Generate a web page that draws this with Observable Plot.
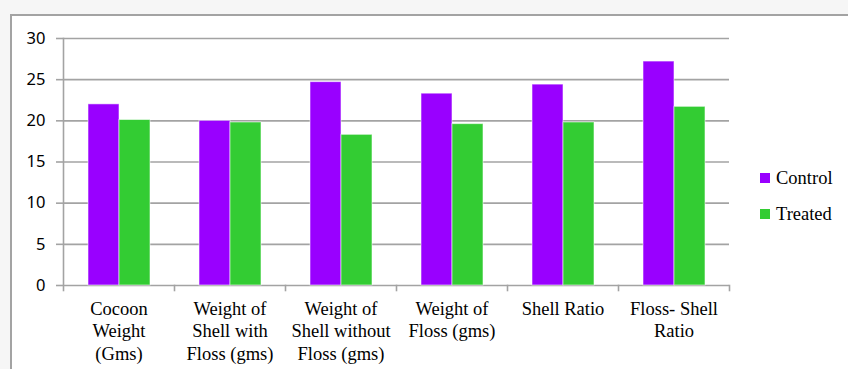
<!DOCTYPE html>
<html>
<head>
<meta charset="utf-8">
<script src="https://cdn.jsdelivr.net/npm/d3@7"></script>
<script src="https://cdn.jsdelivr.net/npm/@observablehq/plot@0.6"></script>
<style>
  html, body { margin: 0; padding: 0; }
  body { width: 848px; height: 369px; background: #f6f6f6; position: relative; overflow: hidden; }
  #panel { position: absolute; left: 10px; top: 14px; right: 0; bottom: 0; background: #fff;
           border-left: 2px solid #a3a3a3; border-top: 2px solid #a3a3a3; }
  #chart { position: absolute; left: 0; top: 0; }
  #legend { position: absolute; left: 760px; top: 165px; font-family: "Liberation Serif", "Times New Roman", serif; font-size: 18.5px; color: #000; }
  .item { display: flex; align-items: center; height: 26px; margin-bottom: 10px; }
  .swatch { width: 10px; height: 10px; margin-right: 6px; }
</style>
</head>
<body>
<div id="panel"></div>
<div id="chart"></div>
<div id="legend"></div>
<script>
// Cocoon and shell measurements, control vs treated
const categories = [
  "Cocoon Weight (Gms)",
  "Weight of Shell with Floss (gms)",
  "Weight of Shell without Floss (gms)",
  "Weight of Floss (gms)",
  "Shell Ratio",
  "Floss- Shell Ratio"
];
const tickLabels = [
  "Cocoon\nWeight\n(Gms)",
  "Weight of\nShell with\nFloss (gms)",
  "Weight of\nShell without\nFloss (gms)",
  "Weight of\nFloss (gms)",
  "Shell Ratio",
  "Floss- Shell\nRatio"
];
const series = ["Control", "Treated"];
const control = [22.0, 20.0, 24.7, 23.3, 24.4, 27.2];
const treated = [20.1, 19.8, 18.3, 19.6, 19.8, 21.7];
const yTicks = [0, 5, 10, 15, 20, 25, 30];
const colors = ["#9900ff", "#33cc33"];

// long-format table for the grouped bars
const rows = categories.flatMap((c, i) => [
  {category: c, series: series[0], value: control[i]},
  {category: c, series: series[1], value: treated[i]}
]);
const labelOf = new Map(categories.map((c, i) => [c, tickLabels[i]]));

const W = 848, H = 369, mT = 38, mB = 84, mL = 63, mR = 119;
const innerH = H - mT - mB;
const gridColor = "#a3a3a3";

const chart = Plot.plot({
  width: W,
  height: H,
  marginTop: mT,
  marginBottom: mB,
  marginLeft: mL,
  marginRight: mR,
  style: {background: "transparent", overflow: "visible"},
  fx: {domain: categories, padding: 0},
  x: {domain: series, paddingInner: 0, paddingOuter: 0.75, axis: null},
  y: {domain: [0, 30]},
  color: {domain: series, range: colors},
  marks: [
    Plot.gridY(yTicks, {stroke: gridColor, strokeOpacity: 1, strokeWidth: 1.6}),
    Plot.barY(rows, {fx: "category", x: "series", y: "value", fill: "series",
                     stroke: "#ffffff", strokeOpacity: 0.55, strokeWidth: 1}),
    // vertical value axis line (leftmost panel only)
    Plot.frame({anchor: "left", fx: categories[0], stroke: gridColor, strokeWidth: 1.6, insetBottom: -5}),
    // category separator ticks below the baseline
    Plot.frame({anchor: "right", stroke: gridColor, strokeWidth: 1.6, insetTop: innerH, insetBottom: -5}),
    Plot.axisY(yTicks, {
      label: null, tickSize: 7, tickPadding: 11, stroke: gridColor, strokeWidth: 1.6, fill: "#000",
      fontSize: 16.5, fontFamily: "Noto Sans, Open Sans, sans-serif"
    }),
    Plot.axisFx({
      anchor: "bottom", tickSize: 0, tickPadding: 13, label: null,
      tickFormat: (d) => labelOf.get(d), lineHeight: 1.22, fill: "#000",
      fontSize: 18.5, fontFamily: "Liberation Serif, Times New Roman, serif"
    })
  ]
});
document.getElementById("chart").appendChild(chart);

// legend
const legend = document.getElementById("legend");
series.forEach((s, i) => {
  const item = document.createElement("div");
  item.className = "item";
  const sw = document.createElement("div");
  sw.className = "swatch";
  sw.style.background = colors[i];
  const tx = document.createElement("span");
  tx.textContent = s;
  item.appendChild(sw);
  item.appendChild(tx);
  legend.appendChild(item);
});
</script>
</body>
</html>
